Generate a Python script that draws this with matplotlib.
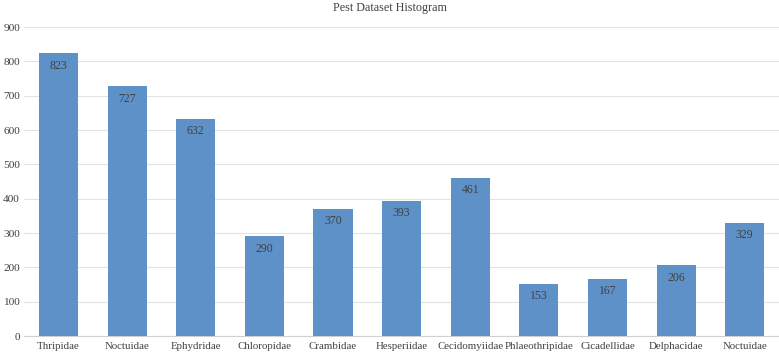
import matplotlib.pyplot as plt
import numpy as np

familias = ['Thripidae', 'Noctuidae', 'Ephydridae', 'Chloropidae', 'Crambidae',
            'Hesperiidae', 'Cecidomyiidae', 'Phlaeothripidae', 'Cicadellidae',
            'Delphacidae', 'Noctuidae']
conteos = [823, 727, 632, 290, 370, 393, 461, 153, 167, 206, 329]
ticks_y = list(range(0, 901, 100))

plt.rcParams['font.family'] = ['Liberation Serif', 'DejaVu Serif']

fig = plt.figure(figsize=(7.79, 3.56), dpi=100)
ax = fig.add_axes([0.031, 0.056, 0.969, 0.868])

x = np.arange(len(familias))
barras = ax.bar(x, conteos, width=0.57, color='#5e91c8', zorder=3)

# Etiquetas dentro de cada barra, cerca del extremo superior
for xi, v in zip(x, conteos):
    ax.annotate(str(v), (xi, v), xytext=(0, -4.5), textcoords='offset points',
                ha='center', va='top', fontsize=8.5, color='#404040', zorder=4)

ax.set_xlim(-0.5, len(familias) - 0.5)
ax.set_ylim(0, 900)
ax.set_yticks(ticks_y)
ax.set_xticks(x)
ax.set_xticklabels(familias)
ax.tick_params(axis='both', length=0, colors='#404040')
ax.tick_params(axis='x', pad=4, labelsize=7.8)
ax.tick_params(axis='y', pad=3, labelsize=8.2)
ax.grid(axis='y', color='#e3e3e3', linewidth=0.8, zorder=0)
for lado in ['top', 'right', 'left']:
    ax.spines[lado].set_visible(False)
ax.spines['bottom'].set_color('#d0d0d0')

fig.text(0.5, 0.977, 'Pest Dataset Histogram', ha='center', va='center',
         fontsize=8.7, color='#404040')

fig.savefig('out.png', dpi=100)
